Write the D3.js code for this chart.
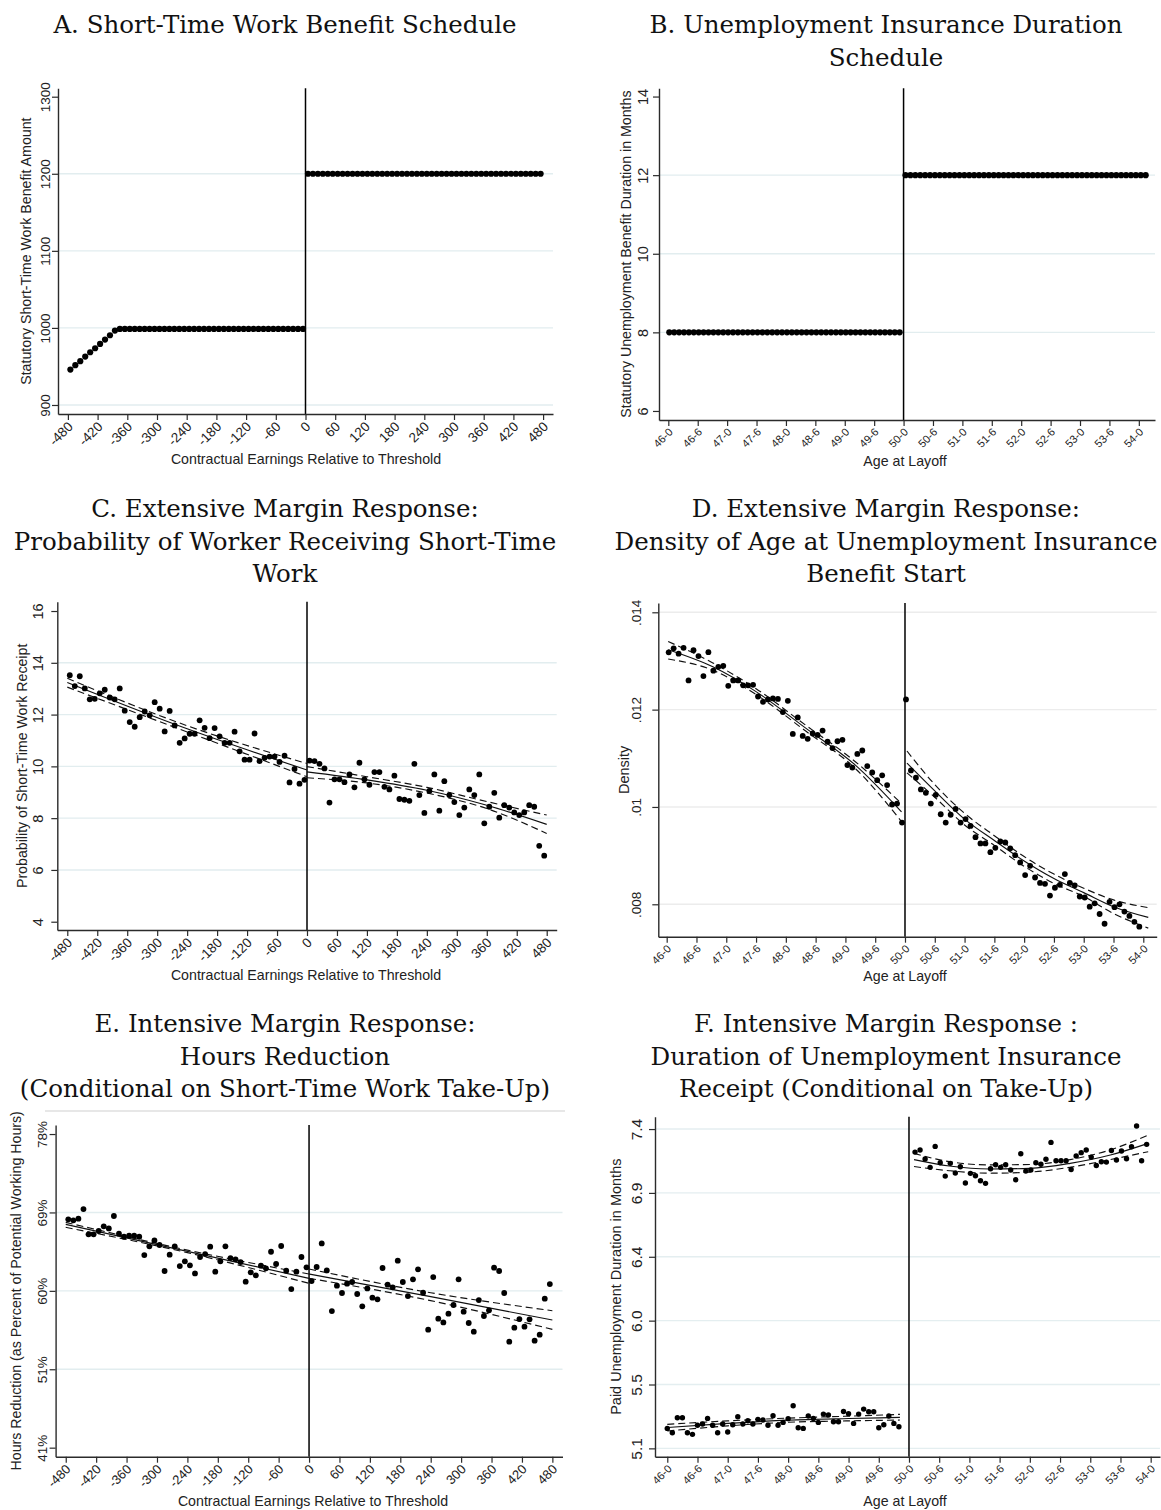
<!DOCTYPE html>
<html>
<head>
<meta charset="utf-8">
<script src="https://cdn.jsdelivr.net/npm/d3@7"></script>
<style>
  body { margin: 0; background: #fff; }
  svg { display: block; }
</style>
</head>
<body>
<svg id="chart" width="1161" height="1510"></svg>
<script>
// ---------- shared axis categories ----------
const earningsBins = [-475,-465,-455,-445,-435,-425,-415,-405,-395,-385,-375,-365,-355,-345,-335,-325,-315,-305,-295,-285,-275,-265,-255,-245,-235,-225,-215,-205,-195,-185,-175,-165,-155,-145,-135,-125,-115,-105,-95,-85,-75,-65,-55,-45,-35,-25,-15,-5,
  5,15,25,35,45,55,65,75,85,95,105,115,125,135,145,155,165,175,185,195,205,215,225,235,245,255,265,275,285,295,305,315,325,335,345,355,365,375,385,395,405,415,425,435,445,455,465,475];
const earningsTicks = [-480,-420,-360,-300,-240,-180,-120,-60,0,60,120,180,240,300,360,420,480];
const earningsTickLabels = ["-480","-420","-360","-300","-240","-180","-120","-60","0","60","120","180","240","300","360","420","480"];
const ageTicks = [0,6,12,18,24,30,36,42,48,54,60,66,72,78,84,90,96];   // months since age 46-0
const ageTickLabels = ["46-0","46-6","47-0","47-6","48-0","48-6","49-0","49-6","50-0","50-6","51-0","51-6","52-0","52-6","53-0","53-6","54-0"];

// ---------- A. short-time work benefit schedule ----------
const benefitA = [945.9,951.6,956.8,962.8,968.4,973.6,979.2,984.9,990.5,996.5,
  998.7,998.7,998.7,998.7,998.7,998.7,998.7,998.7,998.7,998.7,
  998.7,998.7,998.7,998.7,998.7,998.7,998.7,998.7,998.7,998.7,
  998.7,998.7,998.7,998.7,998.7,998.7,998.7,998.7,998.7,998.7,
  998.7,998.7,998.7,998.7,998.7,998.7,998.7,998.7,
  1200,1200,1200,1200,1200,1200,1200,1200,1200,1200,1200,1200,1200,1200,1200,1200,
  1200,1200,1200,1200,1200,1200,1200,1200,1200,1200,1200,1200,1200,1200,1200,1200,
  1200,1200,1200,1200,1200,1200,1200,1200,1200,1200,1200,1200,1200,1200,1200,1200];
const benefitTicks = [900,1000,1100,1200,1300];

// ---------- B. UI duration schedule ----------
const layoffMonthB = [0.2,1.2,2.2,3.2,4.2,5.2,6.2,7.2,8.2,9.2,10.2,11.2,12.2,13.2,14.2,15.2,16.2,17.2,18.2,19.2,20.2,21.2,22.2,23.2,
  24.2,25.2,26.2,27.2,28.2,29.2,30.2,31.2,32.2,33.2,34.2,35.2,36.2,37.2,38.2,39.2,40.2,41.2,42.2,43.2,44.2,45.2,46.2,47.2,
  48.4,49.4,50.4,51.4,52.4,53.4,54.4,55.4,56.4,57.4,58.4,59.4,60.4,61.4,62.4,63.4,64.4,65.4,66.4,67.4,68.4,69.4,70.4,71.4,72.4,
  73.4,74.4,75.4,76.4,77.4,78.4,79.4,80.4,81.4,82.4,83.4,84.4,85.4,86.4,87.4,88.4,89.4,90.4,91.4,92.4,93.4,94.4,95.4,96.4,97.4];
const durationB = [8,8,8,8,8,8,8,8,8,8,8,8,8,8,8,8,8,8,8,8,8,8,8,8,8,8,8,8,8,8,8,8,8,8,8,8,8,8,8,8,8,8,8,8,8,8,8,8,
  12,12,12,12,12,12,12,12,12,12,12,12,12,12,12,12,12,12,12,12,12,12,12,12,12,
  12,12,12,12,12,12,12,12,12,12,12,12,12,12,12,12,12,12,12,12,12,12,12,12,12];
const durationTicksB = [6,8,10,12,14];

// ---------- C. probability of short-time work receipt ----------
const probC = [13.52,13.10,13.48,13.01,12.59,12.61,12.82,12.96,12.66,12.59,
  13.01,12.15,11.71,11.53,11.90,12.12,11.97,12.48,12.23,11.35,
  12.14,11.58,10.91,11.08,11.26,11.26,11.78,11.49,11.09,11.48,
  11.16,10.91,10.91,11.34,10.58,10.26,10.26,11.27,10.20,10.33,
  10.38,10.38,10.17,10.41,9.38,9.90,9.33,9.48,
  10.22,10.20,10.10,9.92,8.60,9.50,9.50,9.39,9.69,9.19,
  10.14,9.50,9.29,9.78,9.78,9.21,9.11,9.64,8.74,8.71,
  8.67,10.10,8.89,8.20,9.05,9.69,8.29,9.43,8.89,8.62,
  8.12,8.41,9.11,8.89,9.69,7.80,8.44,8.98,8.02,8.50,
  8.41,8.22,8.12,8.22,8.50,8.44,6.93,6.55];
const probTicksC = [4,6,8,10,12,14,16];
// fitted line with confidence band: [x, lower, fit, upper]
const fitCLeft  = [[-480,13.06,13.24,13.40],[-240,11.33,11.45,11.57],[0,9.60,9.86,10.11]];
const fitCRight = [[0,9.56,9.79,9.99],[120,9.36,9.48,9.60],[240,8.97,9.08,9.19],[360,8.37,8.50,8.64],[480,7.41,7.76,8.12]];

// ---------- D. density of age at UI start ----------
const monthsD = [0.4,1.4,2.4,3.4,4.4,5.4,6.4,7.4,8.4,9.4,10.4,11.4,12.4,13.4,14.4,15.4,16.4,17.4,18.4,19.4,20.4,21.4,22.4,23.4,
  24.4,25.4,26.4,27.4,28.4,29.4,30.4,31.4,32.4,33.4,34.4,35.4,36.4,37.4,38.4,39.4,40.4,41.4,42.4,43.4,44.4,45.4,46.4,47.4,
  48.2,49.2,50.2,51.2,52.2,53.2,54.2,55.2,56.2,57.2,58.2,59.2,60.2,61.2,62.2,63.2,64.2,65.2,66.2,67.2,68.2,69.2,70.2,71.2,
  72.2,73.2,74.2,75.2,76.2,77.2,78.2,79.2,80.2,81.2,82.2,83.2,84.2,85.2,86.2,87.2,88.2,89.2,90.2,91.2,92.2,93.2,94.2,95.2];
const densityD = [.013178,.01326,.01315,.01327,.01260,.01322,.01310,.01269,.01318,.01280,
  .01288,.01290,.01249,.01260,.01260,.01250,.01250,.01251,.01227,.01216,
  .01221,.01223,.01222,.01195,.01218,.01150,.01184,.01146,.01140,.01151,
  .01148,.01157,.01134,.01121,.01135,.01138,.01086,.01081,.01109,.01116,
  .01084,.01071,.01055,.01065,.01045,.01005,.01007,.00968,
  .01221,.01075,.01060,.01036,.01029,.01007,.01025,.00985,.00968,.00984,
  .00996,.00968,.00975,.00961,.00938,.00925,.00925,.00907,.00916,.00929,
  .00927,.00915,.00901,.00886,.00860,.00879,.00855,.00844,.00842,.00818,
  .00834,.00840,.00862,.00844,.00839,.00816,.00814,.00795,.00802,.00780,
  .00760,.00805,.00794,.00800,.00785,.00776,.00764,.00754];
const densityTicks = [.008,.010,.012,.014];
const densityTickLabels = [".008",".01",".012",".014"];
const fitDLeft  = [[0.3,.01304,.01323,.01340],[9.3,.01281,.01288,.01296],[18,.01231,.01237,.01243],[28,.01156,.01162,.01168],[38,.01079,.01086,.01093],[47.3,.00970,.00990,.01007]];
const fitDRight = [[48.4,.01070,.01090,.01115],[54,.01020,.01033,.01046],[60,.00963,.00975,.00987],[66,.00921,.00931,.00941],[72,.00878,.00889,.00898],[78,.00843,.00853,.00862],[84,.00816,.00824,.00833],[90,.00781,.00795,.00809],[97,.00751,.00773,.00793]];

// ---------- E. hours reduction ----------
const hoursE = [68.69,68.57,68.77,69.90,66.93,66.93,67.32,67.87,67.63,69.08,
  67.01,66.65,66.77,66.77,66.65,64.50,65.52,66.22,65.68,62.63,
  64.54,65.52,63.21,63.76,63.29,62.35,64.27,64.62,65.48,62.55,
  63.76,65.52,64.15,64.00,63.68,61.38,62.47,62.12,63.25,62.94,
  64.89,63.45,65.56,62.67,60.51,62.55,64.27,63.06,
  61.45,63.10,65.87,62.70,57.93,60.91,60.05,61.14,61.34,59.93,
  58.48,60.59,59.50,59.30,62.98,61.02,60.71,63.84,61.34,59.69,
  61.65,62.82,60.08,55.74,61.92,57.03,56.60,57.62,58.64,61.65,
  57.86,56.53,55.51,59.22,57.35,58.01,63.02,62.63,60.05,54.34,
  55.98,56.99,56.10,56.96,54.45,55.16,59.38,61.10];
const hoursTicks = [41.9,51.1,60.3,69.5,78.7];
const hoursTickLabels = ["41%","51%","60%","69%","78%"];
const fitELeft  = [[-480,67.75,68.10,68.34],[-240,64.78,64.93,65.08],[0,61.18,61.77,62.27]];
const fitERight = [[0,61.77,62.27,62.86],[240,59.15,59.62,60.08],[480,55.78,56.88,57.97]];

// ---------- F. paid UI duration ----------
const monthsF = [0,1,2,3,4,5,6,7,8,9,10,11,12,13,14,15,16,17,18,19,20,21,22,23,24,25,26,27,28,29,30,31,32,33,34,35,36,37,38,39,40,41,42,43,44,45,46,
  49.2,50.2,51.2,52.2,53.2,54.2,55.2,56.2,57.2,58.2,59.2,60.2,61.2,62.2,63.2,64.2,65.2,66.2,67.2,68.2,69.2,70.2,71.2,72.2,
  73.2,74.2,75.2,76.2,77.2,78.2,79.2,80.2,81.2,82.2,83.2,84.2,85.2,86.2,87.2,88.2,89.2,90.2,91.2,92.2,93.2,94.2,95.2];
const paidDurationF = [5.244,5.213,5.321,5.321,5.213,5.201,5.266,5.275,5.316,5.266,
  5.213,5.275,5.218,5.270,5.328,5.275,5.299,5.275,5.309,5.304,
  5.266,5.335,5.266,5.287,5.314,5.407,5.249,5.244,5.333,5.316,
  5.287,5.347,5.340,5.292,5.292,5.366,5.350,5.280,5.347,5.383,
  5.364,5.364,5.249,5.270,5.333,5.280,5.256,
  7.234,7.249,7.184,7.124,7.275,7.157,7.061,7.153,7.083,7.129,
  7.011,7.081,7.064,7.028,7.009,7.114,7.143,7.124,7.143,7.105,
  7.035,7.222,7.097,7.105,7.157,7.146,7.182,7.304,7.172,7.172,
  7.172,7.109,7.206,7.230,7.249,7.198,7.138,7.165,7.162,7.246,
  7.177,7.242,7.186,7.273,7.422,7.172,7.290];
const paidTicks = [5.1,5.56,6.02,6.48,6.94,7.40];
const paidTickLabels = ["5.1","5.5","6.0","6.4","6.9","7.4"];
const fitFLeft  = [[0,5.225,5.250,5.273],[12,5.262,5.280,5.298],[24,5.288,5.303,5.318],[36,5.298,5.315,5.332],[46.2,5.304,5.323,5.345]];
const fitFRight = [[49.0,7.130,7.180,7.225],[56,7.100,7.134,7.165],[64,7.082,7.112,7.142],[72,7.090,7.117,7.145],[80,7.125,7.153,7.180],[88,7.180,7.213,7.250],[95.5,7.237,7.297,7.357]];

// ---------- drawing ----------
const svg = d3.select("#chart");
svg.append("rect").attr("width", 1161).attr("height", 1510).attr("fill", "#fff");

const SANS = "'Liberation Sans', Arial, Helvetica, sans-serif";
const SERIF = "'DejaVu Serif', 'Liberation Serif', serif";
const AXIS = "#2b2b2b";

function drawPanel(p) {
  const g = svg.append("g");
  const x = d3.scaleLinear().domain(p.xDomain).range(p.xRange);
  const y = d3.scaleLinear().domain(p.yDomain).range(p.yRange);
  const [left, right] = p.xRange;
  const [bottom, top] = p.yRange;

  // panel heading
  const t = g.append("text")
    .attr("text-anchor", "middle")
    .attr("font-family", SERIF)
    .attr("font-size", 24.5)
    .attr("fill", "#111");
  p.title.forEach((line, i) => {
    t.append("tspan").attr("x", p.titleX).attr("y", p.titleY + i * 32.5).text(line);
  });

  // horizontal gridlines
  g.append("g").selectAll("line").data(p.grid).join("line")
    .attr("x1", left).attr("x2", right)
    .attr("y1", d => y(d)).attr("y2", d => y(d))
    .attr("stroke", p.gridColor).attr("stroke-width", 1.4);

  // eligibility threshold
  g.append("line")
    .attr("x1", x(p.cutoff)).attr("x2", x(p.cutoff))
    .attr("y1", top).attr("y2", bottom)
    .attr("stroke", "#000").attr("stroke-width", 1.5);

  // fitted lines with dashed confidence bands
  (p.fits || []).forEach(fit => {
    [[1, "7,4"], [3, "7,4"], [2, null]].forEach(([k, dash]) => {
      g.append("path")
        .datum(fit)
        .attr("fill", "none")
        .attr("stroke", "#111")
        .attr("stroke-width", 1.15)
        .attr("stroke-dasharray", dash)
        .attr("d", d3.line().x(d => x(d[0])).y(d => y(d[k])).curve(d3.curveMonotoneX));
    });
  });

  // binned means
  g.append("g").selectAll("circle").data(d3.zip(p.xs, p.ys)).join("circle")
    .attr("cx", d => x(d[0])).attr("cy", d => y(d[1]))
    .attr("r", p.r).attr("fill", "#000");

  // x axis
  const xa = g.append("g")
    .attr("transform", `translate(0,${bottom})`)
    .call(d3.axisBottom(x)
      .tickValues(p.xTicks)
      .tickFormat(d => p.xTickLabels[p.xTicks.indexOf(d)])
      .tickSize(6).tickSizeOuter(0));
  xa.attr("font-family", SANS).attr("font-size", p.xTickSize).attr("color", AXIS);
  xa.select(".domain").attr("stroke-width", 1.4);
  xa.selectAll(".tick line").attr("stroke-width", 1.2);
  xa.selectAll("text")
    .attr("x", 0).attr("y", 0).attr("dy", "0.35em")
    .attr("text-anchor", "end").attr("fill", "#222")
    .attr("transform", `translate(2,${p.xLabelDrop}) rotate(-45)`);

  // y axis
  const ya = g.append("g")
    .attr("transform", `translate(${left},0)`)
    .call(d3.axisLeft(y)
      .tickValues(p.yTicks)
      .tickFormat(d => p.yTickLabels[p.yTicks.indexOf(d)])
      .tickSize(6).tickSizeOuter(0));
  ya.attr("font-family", SANS).attr("font-size", p.yTickSize).attr("color", AXIS);
  ya.select(".domain").attr("stroke-width", 1.4);
  ya.selectAll(".tick line").attr("stroke-width", 1.2);
  ya.selectAll("text")
    .attr("x", 0).attr("y", 0).attr("dy", null)
    .attr("text-anchor", "middle").attr("fill", "#222")
    .attr("transform", `translate(${-p.yLabelGap},0) rotate(-90)`);

  // axis titles
  g.append("text")
    .attr("x", p.xTitleX).attr("y", p.xTitleY)
    .attr("text-anchor", "middle")
    .attr("font-family", SANS).attr("font-size", p.xTitleSize).attr("fill", "#222")
    .text(p.xTitle);
  g.append("text")
    .attr("text-anchor", "middle")
    .attr("transform", `translate(${p.yTitleX},${(top + bottom) / 2}) rotate(-90)`)
    .attr("font-family", SANS).attr("font-size", p.yTitleSize).attr("fill", "#222")
    .text(p.yTitle);
}

const GRID_BLUE = "#e2edef";

// A
drawPanel({
  title: ["A. Short-Time Work Benefit Schedule"], titleX: 285, titleY: 33,
  xDomain: [-500, 500], xRange: [58, 553],
  yDomain: [888.3, 1310.9], yRange: [414, 88.3],
  xTicks: earningsTicks, xTickLabels: earningsTickLabels, xTickSize: 13.5, xLabelDrop: 10,
  yTicks: benefitTicks, yTickLabels: benefitTicks.map(String), yTickSize: 13.5, yLabelGap: 8,
  grid: [900, 1000, 1100, 1200], gridColor: GRID_BLUE,
  cutoff: 0, xs: earningsBins, ys: benefitA, r: 3.1,
  xTitle: "Contractual Earnings Relative to Threshold", xTitleX: 306, xTitleY: 464, xTitleSize: 14.2,
  yTitle: "Statutory Short-Time Work Benefit Amount", yTitleX: 31, yTitleSize: 14.2
});

// B
drawPanel({
  title: ["B. Unemployment Insurance Duration", "Schedule"], titleX: 886, titleY: 33,
  xDomain: [-1.9, 99.3], xRange: [659, 1155],
  yDomain: [5.77, 14.21], yRange: [420, 88.3],
  xTicks: ageTicks, xTickLabels: ageTickLabels, xTickSize: 11, xLabelDrop: 10,
  yTicks: durationTicksB, yTickLabels: durationTicksB.map(String), yTickSize: 14.5, yLabelGap: 11,
  grid: [8, 10, 12], gridColor: GRID_BLUE,
  cutoff: 48, xs: layoffMonthB, ys: durationB, r: 3.1,
  xTitle: "Age at Layoff", xTitleX: 905, xTitleY: 466, xTitleSize: 14.2,
  yTitle: "Statutory Unemployment Benefit Duration in Months", yTitleX: 631, yTitleSize: 14.2
});

// C
drawPanel({
  title: ["C. Extensive Margin Response:", "Probability of Worker Receiving Short-Time", "Work"], titleX: 285, titleY: 517,
  xDomain: [-500, 500], xRange: [57.3, 556.7],
  yDomain: [3.68, 16.36], yRange: [930, 601.7],
  xTicks: earningsTicks, xTickLabels: earningsTickLabels, xTickSize: 13.5, xLabelDrop: 10,
  yTicks: probTicksC, yTickLabels: probTicksC.map(String), yTickSize: 14.5, yLabelGap: 14,
  grid: [6, 8, 10, 12, 14], gridColor: GRID_BLUE,
  cutoff: 0, xs: earningsBins, ys: probC, r: 2.9, fits: [fitCLeft, fitCRight],
  xTitle: "Contractual Earnings Relative to Threshold", xTitleX: 306, xTitleY: 980, xTitleSize: 14.2,
  yTitle: "Probability of Short-Time Work Receipt", yTitleX: 27, yTitleSize: 14.2
});

// D
drawPanel({
  title: ["D. Extensive Margin Response:", "Density of Age at Unemployment Insurance", "Benefit Start"], titleX: 886, titleY: 517,
  xDomain: [-1.69, 98.7], xRange: [658.3, 1156.7],
  yDomain: [0.007334, 0.014191], yRange: [936.7, 603],
  xTicks: ageTicks, xTickLabels: ageTickLabels, xTickSize: 11, xLabelDrop: 10,
  yTicks: densityTicks, yTickLabels: densityTickLabels, yTickSize: 13.5, yLabelGap: 17,
  grid: densityTicks, gridColor: "#ececec",
  cutoff: 48, xs: monthsD, ys: densityD, r: 2.9, fits: [fitDLeft, fitDRight],
  xTitle: "Age at Layoff", xTitleX: 905, xTitleY: 981, xTitleSize: 14.2,
  yTitle: "Density", yTitleX: 629, yTitleSize: 14.5
});

// E
drawPanel({
  title: ["E. Intensive Margin Response:", "Hours Reduction", "(Conditional on Short-Time Work Take-Up)"], titleX: 285, titleY: 1032,
  xDomain: [-500, 500], xRange: [55.6, 562.5],
  yDomain: [40.84, 79.76], yRange: [1456.7, 1125],
  xTicks: earningsTicks, xTickLabels: earningsTickLabels, xTickSize: 13, xLabelDrop: 10,
  yTicks: hoursTicks, yTickLabels: hoursTickLabels, yTickSize: 13.5, yLabelGap: 8.3,
  grid: [51.1, 60.3, 69.5], gridColor: GRID_BLUE,
  cutoff: 0, xs: earningsBins, ys: hoursE, r: 2.9, fits: [fitELeft, fitERight],
  xTitle: "Contractual Earnings Relative to Threshold", xTitleX: 313, xTitleY: 1506, xTitleSize: 14.2,
  yTitle: "Hours Reduction (as Percent of Potential Working Hours)", yTitleX: 21, yTitleSize: 14.2
});

// F
drawPanel({
  title: ["F. Intensive Margin Response :", "Duration of Unemployment Insurance", "Receipt (Conditional on Take-Up)"], titleX: 886, titleY: 1032,
  xDomain: [-2.44, 97.85], xRange: [655, 1160],
  yDomain: [5.04, 7.489], yRange: [1456.7, 1116.7],
  xTicks: ageTicks, xTickLabels: ageTickLabels, xTickSize: 11, xLabelDrop: 10,
  yTicks: paidTicks, yTickLabels: paidTickLabels, yTickSize: 15.5, yLabelGap: 13,
  grid: paidTicks, gridColor: "#e4eef0",
  cutoff: 48, xs: monthsF, ys: paidDurationF, r: 2.7, fits: [fitFLeft, fitFRight],
  xTitle: "Age at Layoff", xTitleX: 905, xTitleY: 1506, xTitleSize: 14.2,
  yTitle: "Paid Unemployment Duration in Months", yTitleX: 621, yTitleSize: 14.5
});

// thin frame rule above panel E's plot
svg.append("line")
  .attr("x1", 45).attr("x2", 565).attr("y1", 1111).attr("y2", 1111)
  .attr("stroke", "#cfcfcf").attr("stroke-width", 1);
</script>
</body>
</html>
